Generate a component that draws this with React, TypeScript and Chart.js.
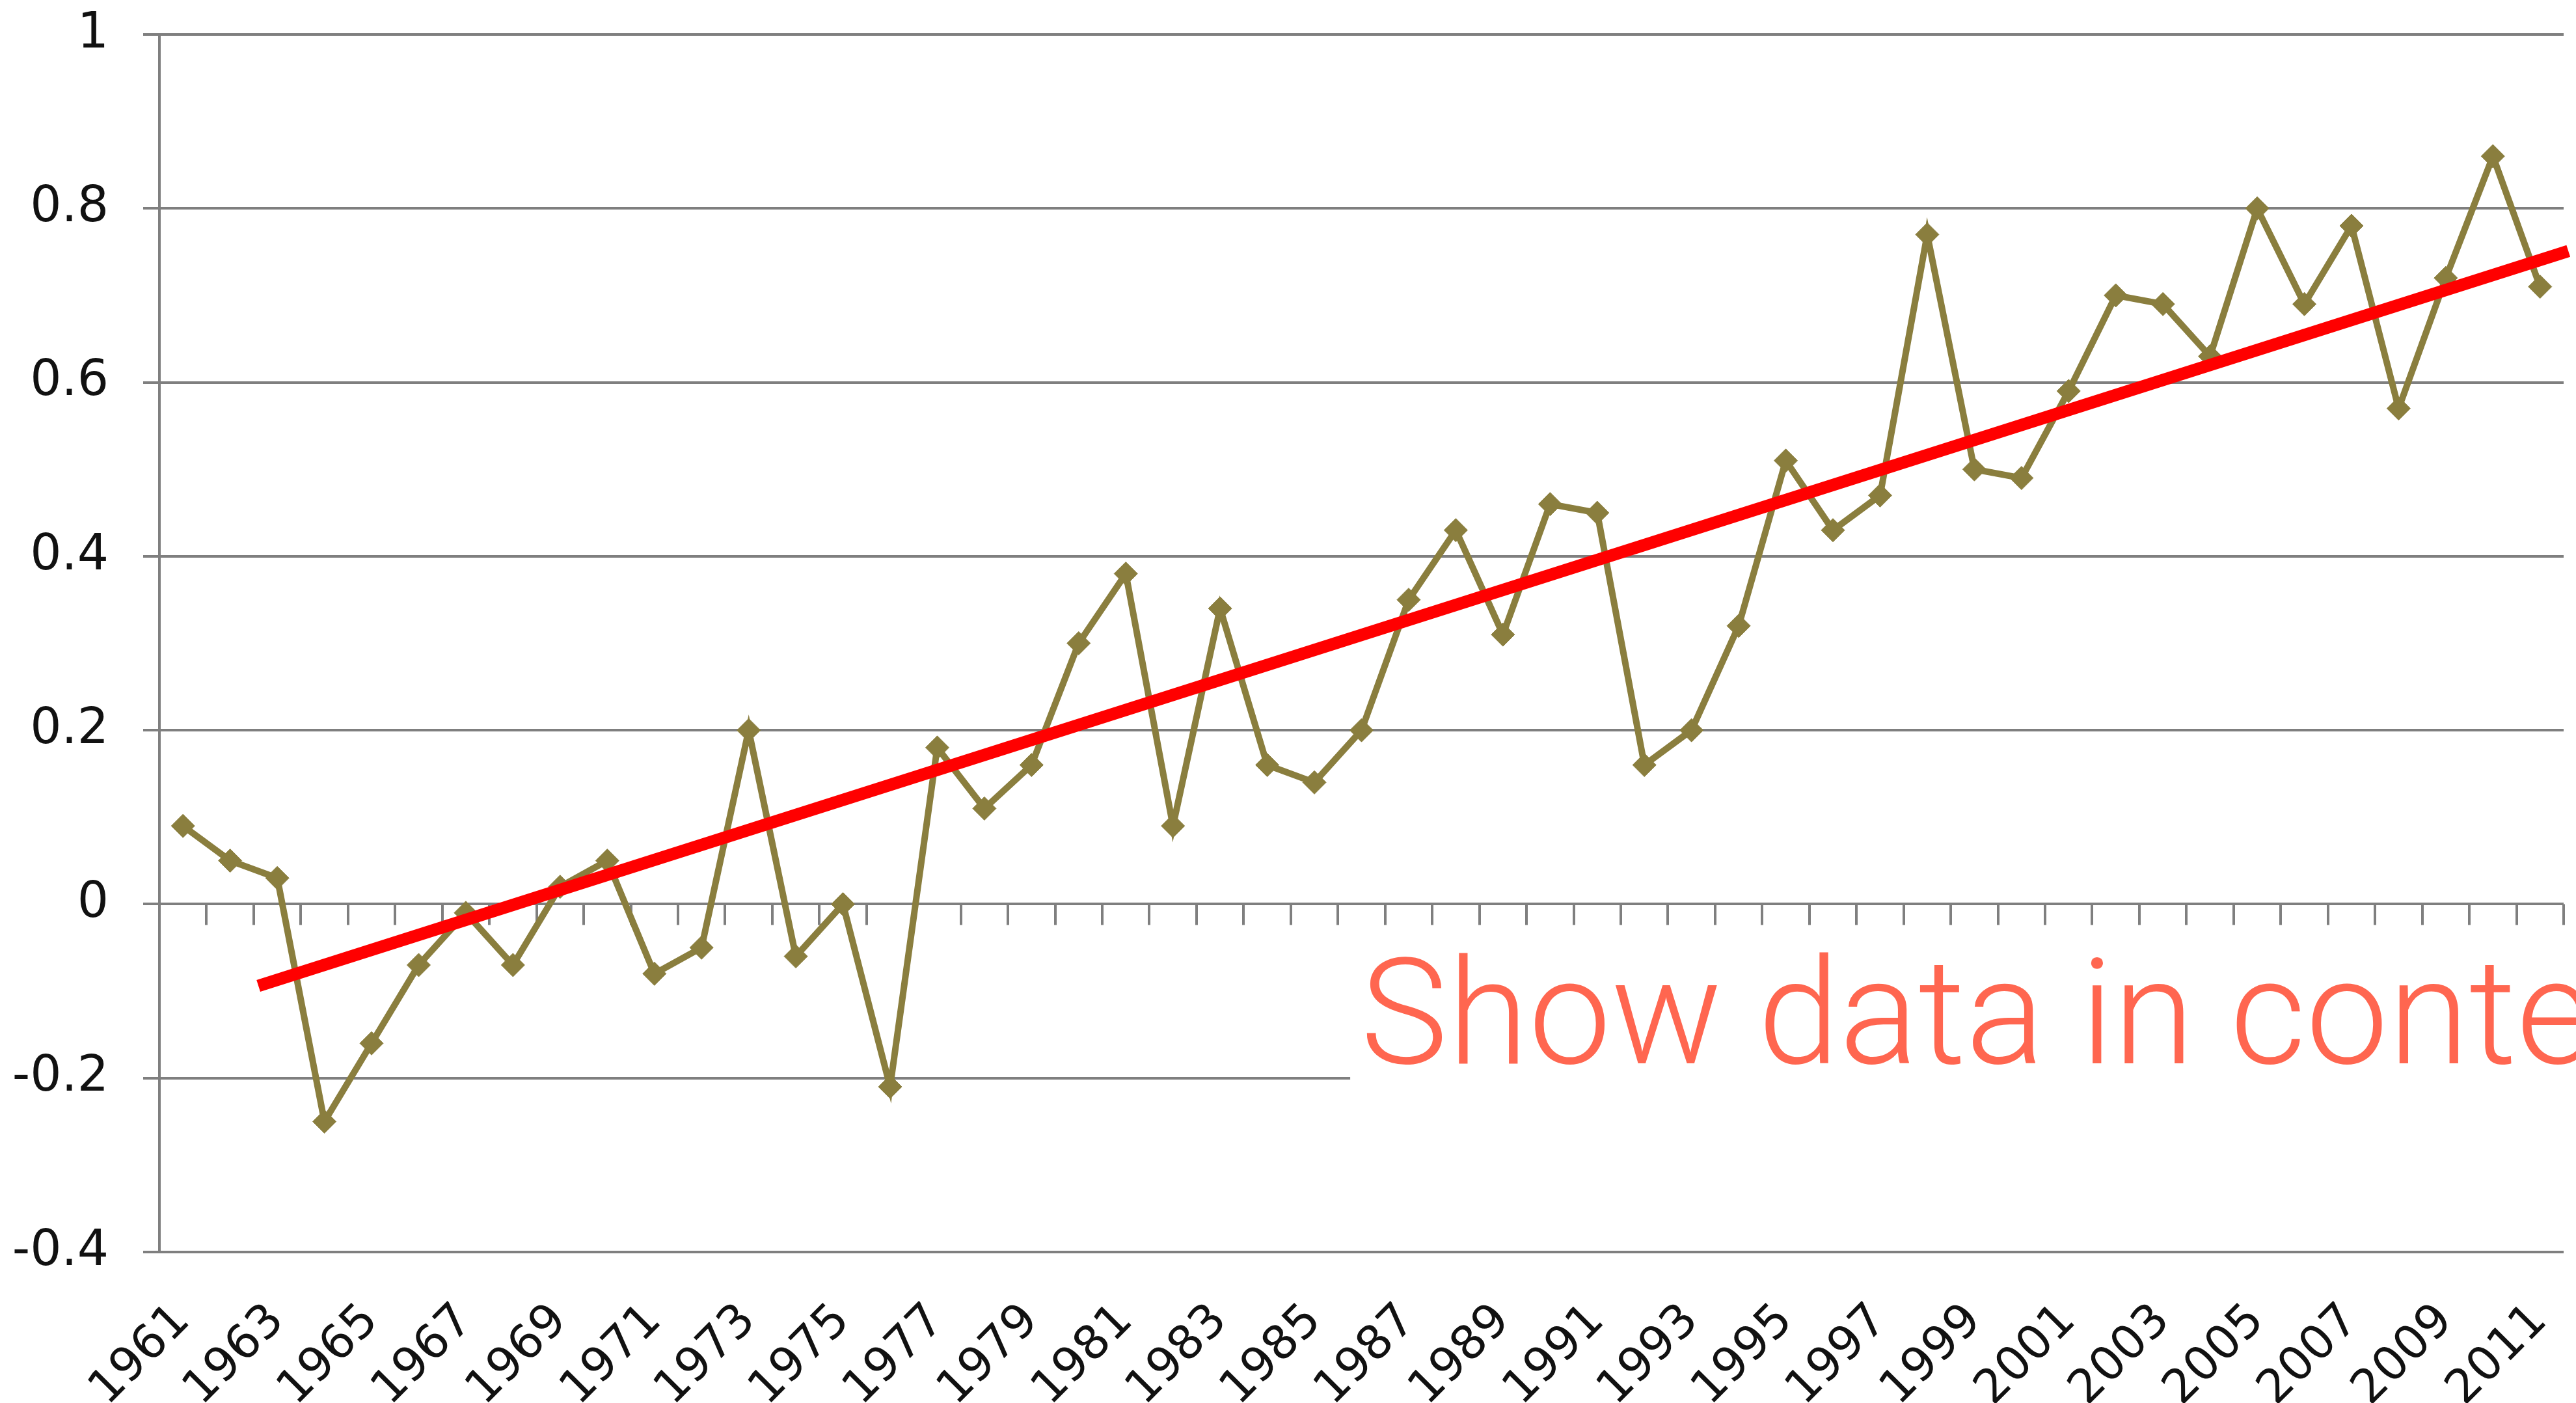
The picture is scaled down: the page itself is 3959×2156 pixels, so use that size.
import React, { useEffect, useRef } from 'react';
import { Chart, registerables } from 'chart.js';

Chart.register(...registerables);

// ---------- data ----------
const years = [
  1961, 1962, 1963, 1964, 1965, 1966, 1967, 1968, 1969, 1970,
  1971, 1972, 1973, 1974, 1975, 1976, 1977, 1978, 1979, 1980,
  1981, 1982, 1983, 1984, 1985, 1986, 1987, 1988, 1989, 1990,
  1991, 1992, 1993, 1994, 1995, 1996, 1997, 1998, 1999, 2000,
  2001, 2002, 2003, 2004, 2005, 2006, 2007, 2008, 2009, 2010, 2011,
];

const anomalies = [
  0.09, 0.05, 0.03, -0.25, -0.16, -0.07, -0.01, -0.07, 0.02, 0.05,
  -0.08, -0.05, 0.2, -0.06, 0.0, -0.21, 0.18, 0.11, 0.16, 0.3,
  0.38, 0.09, 0.34, 0.16, 0.14, 0.2, 0.35, 0.43, 0.31, 0.46,
  0.45, 0.16, 0.2, 0.32, 0.51, 0.43, 0.47, 0.77, 0.5, 0.49,
  0.59, 0.7, 0.69, 0.63, 0.8, 0.69, 0.78, 0.57, 0.72, 0.86, 0.71,
];

const trendYears = [1962.6, 2011.6];
const trendValues = [-0.094, 0.751];

const xTickYears = [
  1961, 1963, 1965, 1967, 1969, 1971, 1973, 1975, 1977, 1979, 1981, 1983, 1985,
  1987, 1989, 1991, 1993, 1995, 1997, 1999, 2001, 2003, 2005, 2007, 2009, 2011,
];

const yTickValues = [-0.4, -0.2, 0, 0.2, 0.4, 0.6, 0.8, 1];
const yTickLabels = ['-0.4', '-0.2', '0', '0.2', '0.4', '0.6', '0.8', '1'];

const annotationText = 'Show data in context';

// ---------- styles ----------
const GRID = '#7f7f7f';
const OLIVE = '#8A7E3E';
const TREND = '#FF0000';
const NOTE = '#FF6650';
const TICK_FONT = 'DejaVu Sans';

const excelAxisPlugin = {
  id: 'excelAxis',
  beforeDatasetsDraw(chart: any) {
    const { ctx, scales } = chart;
    const x = scales.x;
    const y = scales.y;
    const y0 = y.getPixelForValue(0);
    ctx.save();
    ctx.strokeStyle = GRID;
    ctx.lineWidth = 4;
    const bounds = years.map((yr) => yr - 0.5).concat([years[years.length - 1] + 0.5]);
    for (const b of bounds) {
      const px = Math.round(x.getPixelForValue(b));
      ctx.beginPath();
      ctx.moveTo(px, y0);
      ctx.lineTo(px, y0 + 32);
      ctx.stroke();
    }
    ctx.restore();
  },
  afterDraw(chart: any) {
    const { ctx, scales, width } = chart;
    const x = scales.x;
    const y = scales.y;
    const left = x.getPixelForValue(1985.76);
    const top = y.getPixelForValue(0) + 33;
    const bottom = y.getPixelForValue(-0.27);
    ctx.save();
    ctx.fillStyle = '#ffffff';
    ctx.fillRect(left, top, width - left, bottom - top);
    ctx.fillStyle = NOTE;
    ctx.font = '300 226px Roboto';
    ctx.textAlign = 'left';
    ctx.textBaseline = 'alphabetic';
    ctx.fillText(annotationText, left + 16, y.getPixelForValue(-0.183));
    ctx.restore();
  },
};

export default function App() {
  const canvasRef = useRef<HTMLCanvasElement | null>(null);

  useEffect(() => {
    const canvas = canvasRef.current;
    if (!canvas) return;
    const chart = new Chart(canvas, {
      type: 'line',
      data: {
        datasets: [
          {
            label: 'Trend',
            data: trendYears.map((yr, i) => ({ x: yr, y: trendValues[i] })),
            borderColor: TREND,
            backgroundColor: TREND,
            borderWidth: 19,
            pointRadius: 0,
            borderCapStyle: 'butt',
            clip: false as any,
            order: 0,
          },
          {
            label: 'Anomaly',
            data: years.map((yr, i) => ({ x: yr, y: anomalies[i] })),
            borderColor: OLIVE,
            backgroundColor: OLIVE,
            borderWidth: 10,
            pointStyle: 'rectRot',
            pointRadius: 18,
            pointBorderWidth: 1,
            pointBackgroundColor: OLIVE,
            pointBorderColor: OLIVE,
            tension: 0,
            order: 1,
          },
        ],
      },
      options: {
        animation: false,
        responsive: true,
        maintainAspectRatio: false,
        layout: { padding: { top: 53, right: 8, bottom: 0, left: 0 } },
        plugins: {
          legend: { display: false },
          tooltip: { enabled: false },
        },
        scales: {
          x: {
            type: 'linear',
            min: years[0] - 0.5,
            max: years[years.length - 1] + 0.5,
            grid: { display: false, drawTicks: false },
            border: { display: false },
            afterBuildTicks: (s: any) => {
              s.ticks = xTickYears.map((v) => ({ value: v }));
            },
            afterFit: (s: any) => {
              s.height = 232;
              s.paddingLeft = 0;
              s.paddingRight = 0;
            },
            ticks: {
              autoSkip: false,
              minRotation: 45,
              maxRotation: 45,
              padding: 64,
              color: '#111111',
              font: { family: TICK_FONT, size: 72 },
              callback: (v: any) => String(v),
            },
          },
          y: {
            type: 'linear',
            min: -0.4,
            max: 1,
            afterBuildTicks: (s: any) => {
              s.ticks = yTickValues.map((v) => ({ value: v }));
            },
            afterFit: (s: any) => {
              s.width = 245;
              s.paddingTop = 0;
              s.paddingBottom = 0;
            },
            grid: {
              color: GRID,
              lineWidth: 4,
              drawTicks: true,
              tickLength: 25,
              tickColor: GRID,
            },
            border: { display: true, color: GRID, width: 4 },
            ticks: {
              padding: 53,
              color: '#111111',
              font: { family: TICK_FONT, size: 76 },
              callback: (_v: any, i: number) => yTickLabels[i],
            },
          },
        },
      },
      plugins: [excelAxisPlugin],
    } as any);
    return () => chart.destroy();
  }, []);

  return (
    <div
      style={{
        position: 'fixed',
        left: 0,
        top: 0,
        width: '3959px',
        height: '2156px',
        background: '#ffffff',
      }}
    >
      <canvas ref={canvasRef} />
    </div>
  );
}
